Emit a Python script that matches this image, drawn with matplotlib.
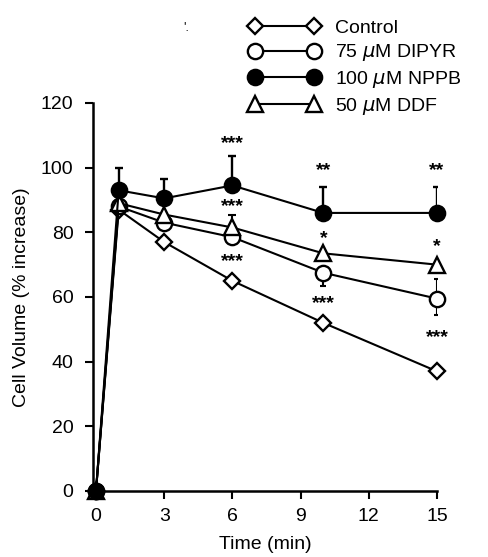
import matplotlib.pyplot as plt
from matplotlib.lines import Line2D

plt.rcParams['font.family'] = ['Liberation Sans', 'DejaVu Sans']

# time points (min)
time = [0, 1, 3, 6, 10, 15]

# cell volume, % increase
control = [0, 87, 77, 65, 52, 37]
dipyr = [0, 88, 83, 78.5, 67.5, 59.5]
nppb = [0, 93, 90.5, 94.5, 86, 86]
ddf = [0, 89, 85.5, 81.5, 73.5, 70]

# error bars (only the visible halves)
nppb_up = [0, 7, 6, 9, 8, 8]
ddf_up = [0, 0, 0, 4, 0, 0]
dipyr_up = [0, 0, 0, 0, 0, 6]
dipyr_down = [0, 0, 0, 0, 4, 5]

labels = ['Control', '75 $\\mu$M DIPYR', '100 $\\mu$M NPPB', '50 $\\mu$M DDF']

# significance marks: (time, y, text)
stars = [
    (6, 109, '***'), (6, 89.5, '***'), (6, 72.5, '***'),
    (10, 100.5, '**'), (10, 79.5, '*'), (10, 59.5, '***'),
    (15, 100.5, '**'), (15, 77, '*'), (15, 49, '***'),
]

fig = plt.figure(figsize=(4.88, 5.57), dpi=100)
ax = fig.add_axes([0.1906, 0.1185, 0.7049, 0.6966])

lw = 1.5
style = dict(color='black', linewidth=lw, markeredgewidth=1.7, clip_on=False)

ax.errorbar(time, nppb, yerr=[[0] * 6, nppb_up], fmt='none', ecolor='black',
            elinewidth=1.7, capsize=3, capthick=1.7, zorder=1)
ax.errorbar(time, ddf, yerr=[[0] * 6, ddf_up], fmt='none', ecolor='black',
            elinewidth=1.5, capsize=3, capthick=1.5, zorder=1)
ax.errorbar(time, dipyr, yerr=[dipyr_down, dipyr_up], fmt='none', ecolor='black',
            elinewidth=1.5, capsize=2, capthick=1.5, zorder=1)

ax.plot(time, control, marker='D', markersize=8.5, markerfacecolor='white', zorder=3, **style)
ax.plot(time, dipyr, marker='o', markersize=11, markerfacecolor='white', zorder=4, **style)
ax.plot(time, ddf, marker='^', markersize=11, markerfacecolor='white', zorder=5, **style)
ax.plot(time, nppb, marker='o', markersize=11, markerfacecolor='black', zorder=6, **style)

for t, y, s in stars:
    ax.text(t, y - 1.5, s, ha='center', va='center', fontsize=14, fontweight='bold')

ax.set_xlim(-0.13, 15)
ax.set_ylim(0, 120)
ax.set_xticks([0, 3, 6, 9, 12, 15])
ax.set_yticks([0, 20, 40, 60, 80, 100, 120])
ax.spines['top'].set_visible(False)
ax.spines['right'].set_visible(False)
ax.spines['left'].set_linewidth(1.8)
ax.spines['bottom'].set_linewidth(1.8)
ax.tick_params(direction='out', length=6, width=1.5, labelsize=14)
ax.tick_params(axis='y', pad=8)
ax.tick_params(axis='x', pad=6)
ax.set_xlabel('Time (min)', fontsize=14, labelpad=8)
ax.set_ylabel('Cell Volume (% increase)', fontsize=14, labelpad=8)

handles = [
    Line2D([0], [0], marker='D', markersize=8.5, markerfacecolor='white', **style),
    Line2D([0], [0], marker='o', markersize=11, markerfacecolor='white', **style),
    Line2D([0], [0], marker='o', markersize=11, markerfacecolor='black', **style),
    Line2D([0], [0], marker='^', markersize=11, markerfacecolor='white', **style),
]
fig.legend(handles, labels, loc='upper left', bbox_to_anchor=(0.495, 0.98),
           numpoints=2, handlelength=3.6, handletextpad=0.8, labelspacing=0.3,
           frameon=False, fontsize=14, borderaxespad=0)

fig.text(0.375, 0.945, "'.", fontsize=9)

fig.savefig('out.png', dpi=100)
